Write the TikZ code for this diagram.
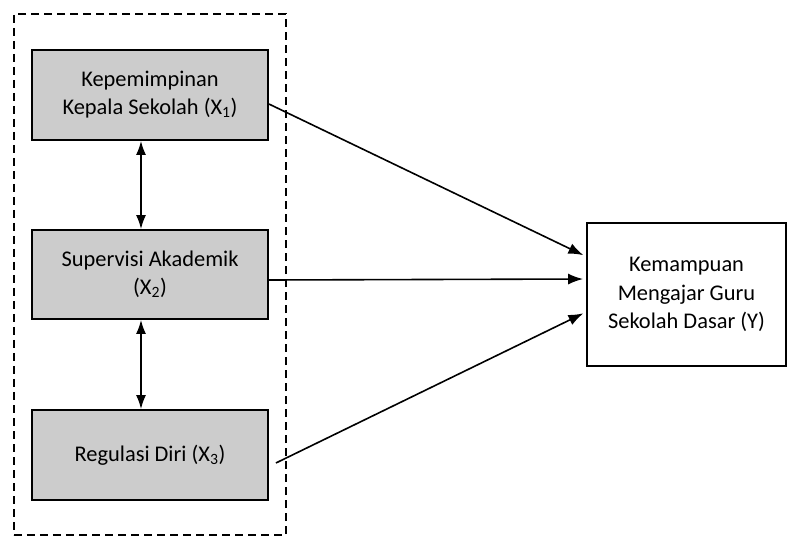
\documentclass[tikz,border=0pt]{standalone}
\usepackage{fontspec}
\setmainfont{Carlito}
\usetikzlibrary{arrows.meta}
\definecolor{boxgrey}{RGB}{204,204,204}
\tikzset{
  varbox/.style={draw=black, line width=1.8bp, fill=boxgrey, minimum width=236bp, minimum height=90bp, align=center, inner sep=0pt, font=\fontsize{22.5}{28}\selectfont},
  ybox/.style={draw=black, line width=1.8bp, fill=white, minimum width=199bp, minimum height=143bp, align=center, inner sep=0pt, font=\fontsize{22.5}{28.5}\selectfont},
  grpbox/.style={draw=black, line width=1.8bp, dash pattern=on 8bp off 5bp, minimum width=272bp, minimum height=521bp, inner sep=0pt},
  conn/.style={line width=1.6bp, -{Latex[length=15bp,width=11bp]}, shorten >=3bp},
  bicon/.style={line width=1.6bp, {Latex[length=14bp,width=10bp]}-{Latex[length=14bp,width=10bp]}}
}
\begin{document}
\begin{tikzpicture}[x=1bp,y=-1bp]
\useasboundingbox (0,0) rectangle (789,537);
\node[grpbox] (grp) at (150,274.5) {};
\node[varbox] (x1) at (150,95) {Kepemimpinan\\Kepala Sekolah (X\textsubscript{1})};
\node[varbox, minimum height=89bp] (x2) at (150,274.5) {Supervisi Akademik\\(X\textsubscript{2})};
\node[varbox] (x3) at (150,455) {Regulasi Diri (X\textsubscript{3})};
\node[ybox] (y) at (686.5,294.5) {Kemampuan\\Mengajar Guru\\Sekolah Dasar (Y)};
\draw[bicon] ([xshift=-9bp]x1.south) -- ([xshift=-9bp]x2.north);
\draw[bicon] ([xshift=-9bp]x2.south) -- ([xshift=-9bp]x3.north);
\draw[conn] ([yshift=-9bp]x1.east) -- ([yshift=38bp]y.west);
\draw[conn] ([yshift=-5.5bp]x2.east) -- ([yshift=15.5bp]y.west);
\draw[conn] ([xshift=7bp,yshift=-8bp]x3.east) -- ([yshift=-17.5bp]y.west);
\end{tikzpicture}
\end{document}
